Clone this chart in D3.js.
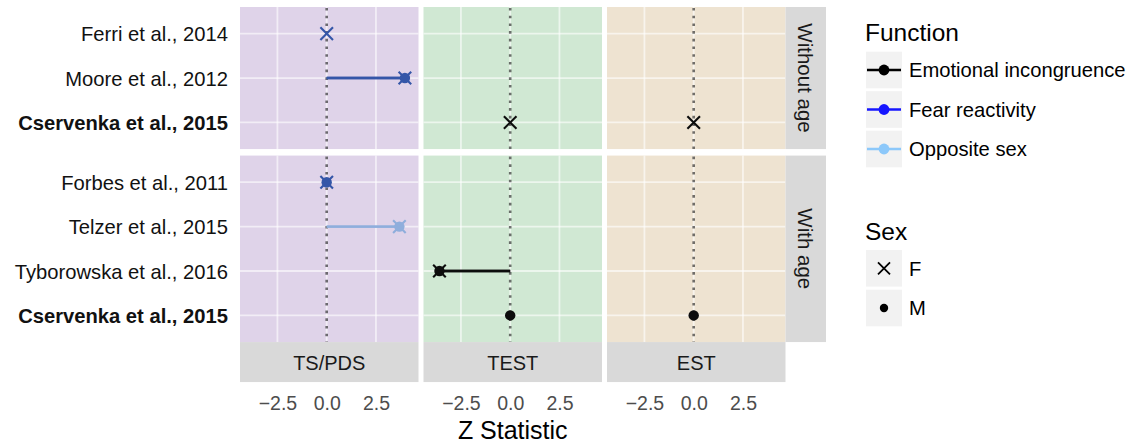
<!DOCTYPE html>
<html>
<head>
<meta charset="utf-8">
<script src="https://cdn.jsdelivr.net/npm/d3@7"></script>
<style>
  html, body { margin: 0; padding: 0; background: #fff; }
  svg { display: block; font-family: "Liberation Sans", Arial, Helvetica, sans-serif; }
</style>
</head>
<body>
<svg id="chart" width="1132" height="443"></svg>
<script>
// ---------------- data ----------------
const measures = ["TS/PDS", "TEST", "EST"];
const facets = ["Without age", "With age"];
const studiesWithoutAge = ["Ferri et al., 2014", "Moore et al., 2012", "Cservenka et al., 2015"];
const studiesWithAge = ["Forbes et al., 2011", "Telzer et al., 2015", "Tyborowska et al., 2016", "Cservenka et al., 2015"];
const boldStudy = "Cservenka et al., 2015";
const functionNames = ["Emotional incongruence", "Fear reactivity", "Opposite sex"];
const sexNames = ["F", "M"];
const xTicks = [-2.5, 0, 2.5];
const xDomain = [-4.4, 4.66];

const pointStudy   = ["Ferri et al., 2014", "Moore et al., 2012", "Moore et al., 2012", "Cservenka et al., 2015", "Cservenka et al., 2015",
                      "Forbes et al., 2011", "Forbes et al., 2011", "Telzer et al., 2015", "Telzer et al., 2015",
                      "Tyborowska et al., 2016", "Tyborowska et al., 2016", "Cservenka et al., 2015", "Cservenka et al., 2015"];
const pointFacet   = ["Without age", "Without age", "Without age", "Without age", "Without age",
                      "With age", "With age", "With age", "With age",
                      "With age", "With age", "With age", "With age"];
const pointMeasure = ["TS/PDS", "TS/PDS", "TS/PDS", "TEST", "EST",
                      "TS/PDS", "TS/PDS", "TS/PDS", "TS/PDS",
                      "TEST", "TEST", "TEST", "EST"];
const pointFunction = ["Fear reactivity", "Fear reactivity", "Fear reactivity", "Emotional incongruence", "Emotional incongruence",
                       "Fear reactivity", "Fear reactivity", "Opposite sex", "Opposite sex",
                       "Emotional incongruence", "Emotional incongruence", "Emotional incongruence", "Emotional incongruence"];
const pointSex     = ["F", "F", "M", "F", "F",
                      "F", "M", "F", "M",
                      "F", "M", "M", "M"];
const pointZ       = [0, 3.97, 3.97, 0, 0,
                      0, 0, 3.69, 3.69,
                      -3.59, -3.59, 0, 0];

// ---------------- styles ----------------
const panelFill = { "TS/PDS": "#DFD3E9", "TEST": "#D0E8D3", "EST": "#EEE3D1" };
const markColor = d3.scaleOrdinal().domain(functionNames).range(["#0d0d0d", "#3456A8", "#8FAEDC"]);
const legendColor = d3.scaleOrdinal().domain(functionNames).range(["#000000", "#1616FF", "#8CC8FA"]);

const svg = d3.select("#chart");
const data = pointZ.map((z, i) => ({
  study: pointStudy[i], facet: pointFacet[i], measure: pointMeasure[i],
  func: pointFunction[i], sex: pointSex[i], z
}));

// layout
const colLeft = 240, panelW = 178.5, colGap = 5;
const rowTop = 7, rowGap = 6.5, unitH = 44.4;
const facetStudies = { "Without age": studiesWithoutAge, "With age": studiesWithAge };
const facetRange = {};
let yCursor = rowTop;
facets.forEach(f => {
  const h = (facetStudies[f].length - 1 + 1.2) * unitH;
  facetRange[f] = [yCursor, yCursor + h];
  yCursor += h + rowGap;
});
const panelsBottom = facetRange["With age"][1];

const xScales = {};
measures.forEach((m, i) => {
  const x0 = colLeft + i * (panelW + colGap);
  xScales[m] = d3.scaleLinear().domain(xDomain).range([x0, x0 + panelW]);
});
const yScales = {};
facets.forEach(f => {
  yScales[f] = d3.scalePoint().domain(facetStudies[f]).range(facetRange[f]).padding(0.6);
});

const gPanels = svg.append("g");
facets.forEach(f => {
  const [y0, y1] = facetRange[f];
  measures.forEach(m => {
    const x = xScales[m];
    const [x0, x1] = x.range();
    const g = gPanels.append("g");
    g.append("rect").attr("x", x0).attr("y", y0).attr("width", x1 - x0).attr("height", y1 - y0)
      .attr("fill", panelFill[m]);
    // grid
    g.selectAll("line.vg").data(xTicks).join("line")
      .attr("x1", d => x(d)).attr("x2", d => x(d)).attr("y1", y0).attr("y2", y1)
      .attr("stroke", "#fff").attr("stroke-opacity", 0.6).attr("stroke-width", 1.8);
    g.selectAll("line.hg").data(facetStudies[f]).join("line")
      .attr("x1", x0).attr("x2", x1).attr("y1", d => yScales[f](d)).attr("y2", d => yScales[f](d))
      .attr("stroke", "#fff").attr("stroke-opacity", 0.6).attr("stroke-width", 1.8);
    // zero line
    g.append("line").attr("x1", x(0)).attr("x2", x(0)).attr("y1", y0 + 1).attr("y2", y1)
      .attr("stroke", "#000").attr("stroke-opacity", 0.55).attr("stroke-width", 2.6)
      .attr("stroke-dasharray", "2.6,5.1");
    // marks
    const sub = data.filter(d => d.facet === f && d.measure === m);
    g.selectAll("line.seg").data(sub).join("line")
      .attr("x1", x(0)).attr("x2", d => x(d.z))
      .attr("y1", d => yScales[f](d.study)).attr("y2", d => yScales[f](d.study))
      .attr("stroke", d => markColor(d.func)).attr("stroke-width", 2.4);
    sub.forEach(d => {
      const cx = x(d.z), cy = yScales[f](d.study);
      if (d.sex === "M") {
        g.append("circle").attr("cx", cx).attr("cy", cy).attr("r", 5.2).attr("fill", markColor(d.func));
      } else {
        g.append("path").attr("transform", `translate(${cx},${cy})`)
          .attr("d", "M-6.3,-6.3L6.3,6.3M-6.3,6.3L6.3,-6.3")
          .attr("stroke", markColor(d.func)).attr("stroke-width", 2.1).attr("fill", "none");
      }
    });
  });
  // right strip
  const sx0 = xScales["EST"].range()[1];
  svg.append("rect").attr("x", sx0).attr("y", y0).attr("width", 40.5).attr("height", y1 - y0).attr("fill", "#D9D9D9");
  svg.append("text").attr("transform", `translate(${sx0 + 20.25 - 7.3},${(y0 + y1) / 2}) rotate(90)`)
    .attr("text-anchor", "middle").attr("font-size", 20.5).attr("fill", "#1a1a1a").text(f);
  // y axis
  const ax = svg.append("g").attr("transform", `translate(${colLeft - 12},0)`)
    .call(d3.axisLeft(yScales[f]).tickSize(0).tickPadding(0));
  ax.select(".domain").remove();
  ax.selectAll("text").attr("font-size", 20.2).attr("fill", "#111")
    .attr("font-family", "'Liberation Sans', Arial, Helvetica, sans-serif")
    .attr("dy", "0.36em")
    .attr("font-weight", d => d === boldStudy ? "bold" : "normal");
});

// bottom strips + x axes
measures.forEach(m => {
  const [x0, x1] = xScales[m].range();
  svg.append("rect").attr("x", x0).attr("y", panelsBottom).attr("width", x1 - x0).attr("height", 40).attr("fill", "#D9D9D9");
  svg.append("text").attr("x", (x0 + x1) / 2).attr("y", panelsBottom + 28).attr("text-anchor", "middle")
    .attr("font-size", 20).attr("fill", "#1a1a1a").text(m);
  const ax = svg.append("g").attr("transform", `translate(0,${panelsBottom + 40})`)
    .call(d3.axisBottom(xScales[m]).tickValues(xTicks).tickSize(0).tickPadding(0).tickFormat(d3.format(".1f")));
  ax.select(".domain").remove();
  ax.selectAll("text").attr("font-size", 19.5).attr("fill", "#4d4d4d")
    .attr("font-family", "'Liberation Sans', Arial, Helvetica, sans-serif")
    .attr("dy", null).attr("y", 27.5);
});
svg.append("text").attr("x", (colLeft + xScales["EST"].range()[1]) / 2).attr("y", 439)
  .attr("text-anchor", "middle").attr("font-size", 25).attr("fill", "#000").text("Z Statistic");

// legends
const lx = 865;
svg.append("text").attr("x", lx).attr("y", 41).attr("font-size", 24.5).attr("fill", "#000").text("Function");
functionNames.forEach((fn, i) => {
  const cy = 70 + i * 39.5;
  svg.append("rect").attr("x", lx + 1).attr("y", cy - 18.3).attr("width", 36).attr("height", 36.6).attr("fill", "#F2F2F2");
  svg.append("line").attr("x1", lx + 2).attr("x2", lx + 36).attr("y1", cy).attr("y2", cy)
    .attr("stroke", legendColor(fn)).attr("stroke-width", 2.6);
  svg.append("circle").attr("cx", lx + 19).attr("cy", cy).attr("r", 5.4).attr("fill", legendColor(fn));
  svg.append("text").attr("x", lx + 44).attr("y", cy + 7.2).attr("font-size", 20.2).attr("fill", "#000").text(fn);
});
svg.append("text").attr("x", lx).attr("y", 239.5).attr("font-size", 24.5).attr("fill", "#000").text("Sex");
sexNames.forEach((s, i) => {
  const cy = 268.3 + i * 39.7;
  svg.append("rect").attr("x", lx + 1).attr("y", cy - 18.3).attr("width", 36).attr("height", 36.6).attr("fill", "#F2F2F2");
  if (s === "F") {
    svg.append("path").attr("transform", `translate(${lx + 19},${cy})`)
      .attr("d", "M-6,-6L6,6M-6,6L6,-6").attr("stroke", "#000").attr("stroke-width", 1.8).attr("fill", "none");
  } else {
    svg.append("circle").attr("cx", lx + 19).attr("cy", cy).attr("r", 4.2).attr("fill", "#000");
  }
  svg.append("text").attr("x", lx + 44).attr("y", cy + 7.2).attr("font-size", 20.2).attr("fill", "#000").text(s);
});
</script>
</body>
</html>
